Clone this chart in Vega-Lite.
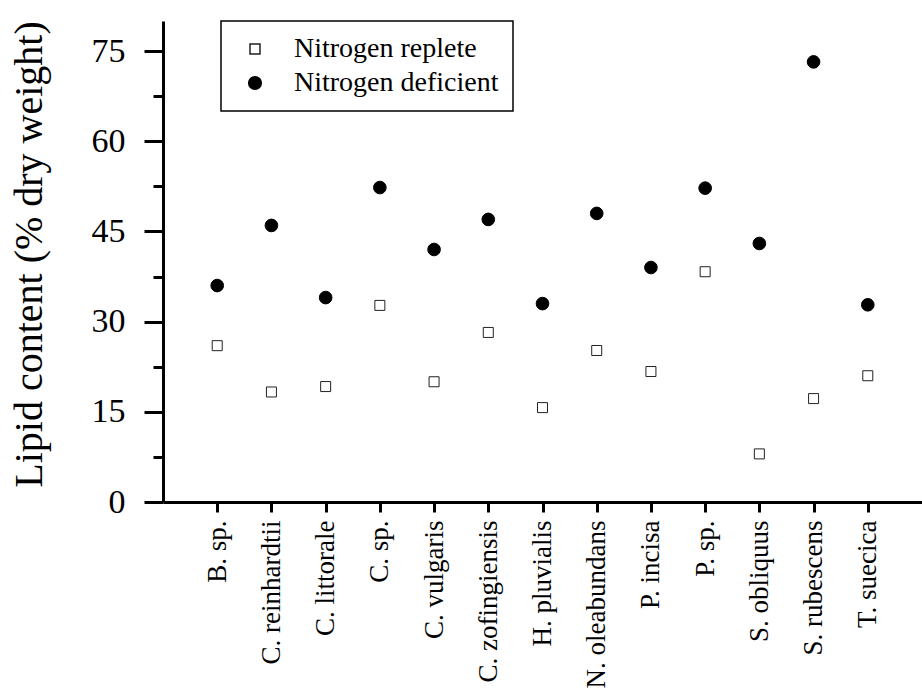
{
  "$schema": "https://vega.github.io/schema/vega-lite/v6.json",
  "width": 759,
  "height": 481,
  "autosize": {"type": "none"},
  "padding": {"left": 163, "top": 21, "right": 0, "bottom": 186},
  "background": "white",
  "config": {
    "view": {"stroke": null},
    "font": "Liberation Serif",
    "legend": {
      "orient": "none",
      "legendX": 58,
      "legendY": 0,
      "strokeColor": "black",
      "strokeWidth": 1.5,
      "fillColor": "white",
      "padding": 14,
      "symbolOffset": 6,
      "labelOffset": 25,
      "rowPadding": 6,
      "labelFontSize": 28,
      "labelFont": "Liberation Serif",
      "labelColor": "black",
      "labelLimit": 400
    }
  },
  "data": {
    "values": [
      {"species": "B. sp.", "condition": "Nitrogen replete", "lipid": 26},
      {"species": "B. sp.", "condition": "Nitrogen deficient", "lipid": 36},
      {"species": "C. reinhardtii", "condition": "Nitrogen replete", "lipid": 18.3},
      {"species": "C. reinhardtii", "condition": "Nitrogen deficient", "lipid": 46},
      {"species": "C. littorale", "condition": "Nitrogen replete", "lipid": 19.2},
      {"species": "C. littorale", "condition": "Nitrogen deficient", "lipid": 34},
      {"species": "C. sp.", "condition": "Nitrogen replete", "lipid": 32.7},
      {"species": "C. sp.", "condition": "Nitrogen deficient", "lipid": 52.3},
      {"species": "C. vulgaris", "condition": "Nitrogen replete", "lipid": 20},
      {"species": "C. vulgaris", "condition": "Nitrogen deficient", "lipid": 42},
      {"species": "C. zofingiensis", "condition": "Nitrogen replete", "lipid": 28.2},
      {"species": "C. zofingiensis", "condition": "Nitrogen deficient", "lipid": 47},
      {"species": "H. pluvialis", "condition": "Nitrogen replete", "lipid": 15.7},
      {"species": "H. pluvialis", "condition": "Nitrogen deficient", "lipid": 33},
      {"species": "N. oleabundans", "condition": "Nitrogen replete", "lipid": 25.2},
      {"species": "N. oleabundans", "condition": "Nitrogen deficient", "lipid": 48},
      {"species": "P. incisa", "condition": "Nitrogen replete", "lipid": 21.7},
      {"species": "P. incisa", "condition": "Nitrogen deficient", "lipid": 39},
      {"species": "P. sp.", "condition": "Nitrogen replete", "lipid": 38.3},
      {"species": "P. sp.", "condition": "Nitrogen deficient", "lipid": 52.2},
      {"species": "S. obliquus", "condition": "Nitrogen replete", "lipid": 8},
      {"species": "S. obliquus", "condition": "Nitrogen deficient", "lipid": 43},
      {"species": "S. rubescens", "condition": "Nitrogen replete", "lipid": 17.2},
      {"species": "S. rubescens", "condition": "Nitrogen deficient", "lipid": 73.2},
      {"species": "T. suecica", "condition": "Nitrogen replete", "lipid": 21},
      {"species": "T. suecica", "condition": "Nitrogen deficient", "lipid": 32.8}
    ]
  },
  "mark": {"type": "point", "strokeWidth": 1, "opacity": 1},
  "encoding": {
    "x": {
      "field": "species",
      "type": "nominal",
      "sort": null,
      "scale": {"type": "point", "padding": 1},
      "axis": {
        "title": null,
        "labelAngle": 270,
        "labelFont": "Liberation Serif",
        "labelFontSize": 27,
        "labelColor": "black",
        "labelPadding": 8,
        "labelLimit": 300,
        "tickSize": 10,
        "tickWidth": 3,
        "tickColor": "black",
        "domainColor": "black",
        "domainWidth": 3,
        "grid": false
      }
    },
    "y": {
      "field": "lipid",
      "type": "quantitative",
      "scale": {"domain": [0, 80], "nice": false},
      "axis": {
        "title": "Lipid content (% dry weight)",
        "titleFont": "Liberation Serif",
        "titleFontSize": 40,
        "titleFontWeight": "normal",
        "titleColor": "black",
        "titlePadding": 42,
        "titleY": 233,
        "values": [0, 7.5, 15, 22.5, 30, 37.5, 45, 52.5, 60, 67.5, 75],
        "labelExpr": "datum.value % 15 === 0 ? datum.label : ''",
        "labelFont": "Liberation Serif",
        "labelFontSize": 34,
        "labelColor": "black",
        "labelPadding": 19,
        "tickSize": {"condition": {"test": "datum.value % 15 === 0", "value": 19}, "value": 10},
        "tickWidth": 3,
        "tickColor": "black",
        "domainColor": "black",
        "domainWidth": 3,
        "grid": false
      }
    },
    "shape": {
      "field": "condition",
      "type": "nominal",
      "title": null,
      "scale": {"domain": ["Nitrogen replete", "Nitrogen deficient"], "range": ["square", "circle"]}
    },
    "fill": {
      "field": "condition",
      "type": "nominal",
      "title": null,
      "scale": {"domain": ["Nitrogen replete", "Nitrogen deficient"], "range": ["white", "black"]}
    },
    "stroke": {
      "field": "condition",
      "type": "nominal",
      "title": null,
      "scale": {"domain": ["Nitrogen replete", "Nitrogen deficient"], "range": ["#222222", "black"]}
    },
    "size": {
      "field": "condition",
      "type": "nominal",
      "title": null,
      "scale": {"domain": ["Nitrogen replete", "Nitrogen deficient"], "range": [100, 160]}
    }
  }
}
